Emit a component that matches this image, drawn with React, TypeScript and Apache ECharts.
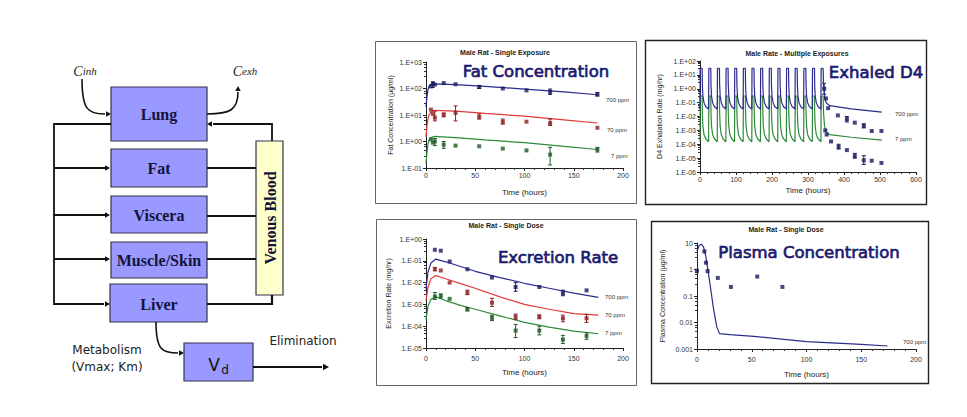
import React, { useEffect, useRef } from "react";
import * as echarts from "echarts";

// ---------------- Panel 1: Fat concentration (single exposure) ----------------
const fatObsHours = [5, 7, 9, 18, 30, 54, 78, 102, 126, 174];
const fatObs700 = [120, 150, 140, 160, 145, 115, 100, 85, 75, 60];
const fatObs70 = [16, 11, 8, 10, 12, 8.5, 5.5, 5.6, 5, 3.3];
const fatObs7 = [1.2, 0.9, 1.0, 0.76, 0.7, 0.66, 0.54, 0.46, 0.32, 0.5];
const fatErr700 = [[7, 110, 180], [54, 100, 130], [126, 60, 95], [174, 52, 70]];
const fatErr70 = [[9, 6, 14], [18, 8.5, 12], [30, 6, 22], [54, 7, 11], [78, 4.5, 7], [126, 4, 7]];
const fatErr7 = [[9, 0.7, 1.3], [18, 0.55, 1.0], [126, 0.13, 0.6], [174, 0.4, 0.6]];
const fatModelHours = [0, 1, 2, 3, 5, 8, 30, 60, 100, 140, 174];
const fatModel700 = [20, 50, 90, 120, 145, 150, 140, 120, 95, 75, 58];
const fatModel70 = [1.5, 4, 7, 10, 13, 15, 14, 11.5, 9, 6.5, 5];
const fatModel7 = [0.15, 0.4, 0.8, 1.1, 1.4, 1.55, 1.4, 1.15, 0.9, 0.65, 0.5];
const fatTickLabels = ["1.E-01", "1.E+00", "1.E+01", "1.E+02", "1.E+03"];

// ---------------- Panel 2: Exhaled D4 (multiple exposures) ----------------
const exposureStarts = [0, 24, 48, 72, 96, 120, 144, 168, 192, 216, 240, 264, 288, 312, 336];
const cycleHours = [0, 0.5, 6, 6.5, 8, 11, 16, 23.9];
const cycle700 = [0.035, 30, 30, 2, 0.3, 0.1, 0.05, 0.035];
const cycle7 = [1.5e-4, 0.3, 0.3, 0.02, 0.002, 5e-4, 2.5e-4, 1.5e-4];
const tailHours = [343, 346, 350, 360, 420, 505];
const tail700 = [2, 0.3, 0.1, 0.06, 0.035, 0.021];
const tail7 = [0.02, 0.002, 8e-4, 5e-4, 3.2e-4, 2e-4];
const exhObsHours700 = [345, 350, 356, 383, 408, 430, 455, 477, 504];
const exhObs700 = [1.0, 0.2, 0.04, 0.012, 0.0064, 0.0036, 0.0021, 0.0009, 0.0009];
const exhObsHours7 = [348, 352, 364, 385, 408, 430, 455, 477, 504];
const exhObs7 = [1e-3, 5e-4, 1.6e-4, 6.5e-5, 3.8e-5, 1.4e-5, 7e-6, 6.5e-6, 4.5e-6];
const exhErr700 = [[345, 0.4, 2.5], [408, 0.004, 0.01], [455, 0.0015, 0.003]];
const exhErr7 = [[385, 4.5e-5, 1e-4], [430, 1e-5, 2.2e-5], [455, 3.5e-6, 1.5e-5]];
const exhTickLabels = ["1.E-06", "1.E-05", "1.E-04", "1.E-03", "1.E-02", "1.E-01", "1.E+00", "1.E+01", "1.E+02"];

// ---------------- Panel 3: Excretion rate (single dose) ----------------
const excObsHours = [9, 15, 24, 42, 67, 91, 115, 139, 163];
const excObs700 = [0.32, 0.29, 0.093, 0.041, 0.017, 0.0063, 0.0063, 0.0033, 0.0044];
const excObs70 = [0.041, 0.036, 0.01, 0.0035, 0.0012, 2.7e-4, 2.7e-4, 2.3e-4, 2.3e-4];
const excObs7 = [0.0023, 0.0025, 0.0018, 6.0e-4, 2.4e-4, 6.3e-5, 6.3e-5, 2.4e-5, 3.6e-5];
const excErr700 = [[91, 0.004, 0.01], [139, 0.0025, 0.0045]];
const excErr70 = [[9, 0.035, 0.05], [42, 0.0028, 0.0045], [67, 8e-4, 0.0019], [91, 2e-4, 3.6e-4], [115, 2.2e-4, 3.3e-4], [139, 1.6e-4, 3.2e-4], [163, 1.5e-4, 3.5e-4]];
const excErr7 = [[9, 0.0017, 0.0035], [15, 0.002, 0.003], [42, 5e-4, 7e-4], [67, 1.8e-4, 3.2e-4], [91, 3e-5, 1.2e-4], [115, 4e-5, 1e-4], [139, 1.6e-5, 3.8e-5], [163, 2.5e-5, 5e-5]];
const excModelHours = [0, 2, 5, 10, 20, 35, 50, 75, 100, 125, 150, 175];
const excModel700 = [0.005, 0.03, 0.08, 0.12, 0.09, 0.055, 0.033, 0.017, 0.0093, 0.0055, 0.0033, 0.0021];
const excModel70 = [0.0015, 0.006, 0.015, 0.021, 0.015, 0.009, 0.0055, 0.0022, 0.001, 6e-4, 3.8e-4, 3.2e-4];
const excModel7 = [2e-4, 8e-4, 0.0017, 0.0022, 0.0015, 9e-4, 6e-4, 3e-4, 1.5e-4, 9e-5, 6e-5, 4.5e-5];
const excTickLabels = ["1.E-05", "1.E-04", "1.E-03", "1.E-02", "1.E-01", "1.E+00"];

// ---------------- Panel 4: Plasma concentration (single dose) ----------------
const plasmaObsHours = [0, 6.7, 8.2, 9.7, 19, 31, 55, 78];
const plasmaObs700 = [0.9, 4.8, 1.8, 0.87, 0.48, 0.22, 0.54, 0.22];
const plasmaModelHours = [0, 2, 4, 6, 8, 10, 12, 15, 18, 20.5, 30, 52, 100, 150, 174];
const plasmaModel700 = [5, 8, 9, 7, 3.2, 0.95, 0.26, 0.035, 0.007, 0.0038, 0.0035, 0.003, 0.0019, 0.0015, 0.0013];
const plasmaTickLabels = ["0.001", "0.01", "0.1", "1", "10"];

const SANS = "Liberation Sans, Arial, sans-serif";
const SERIF = "Liberation Serif, Times New Roman, serif";
const COMIC = "DejaVu Sans, Verdana, sans-serif";
const BLUE = "#2b2b8f";
const RED = "#e23a3a";
const GREEN = "#2f8a3a";
const BLUE_M = "#1a1a5e";
const RED_M = "#8e1f1f";
const GREEN_M = "#1f5a26";
const BOX = "#9999ff";
const INK = "#111";

const pairs = (xs: number[], ys: number[]) => xs.map((x, i) => [x, ys[i]]);

function buildExhaled(vals: number[], tH: number[], tV: number[]) {
  const out: number[][] = [];
  exposureStarts.forEach((s, k) => {
    const last = k === exposureStarts.length - 1;
    const n = last ? 3 : cycleHours.length;
    for (let i = 0; i < n; i++) out.push([s + cycleHours[i], vals[i]]);
  });
  tH.forEach((h, i) => out.push([h, tV[i]]));
  return out;
}

function logY(gridIndex: number, labels: string[], minExp: number, name: string, nameGap: number) {
  const maxExp = minExp + labels.length - 1;
  return {
    type: "log",
    gridIndex,
    logBase: 10,
    min: Math.pow(10, minExp),
    max: Math.pow(10, maxExp),
    splitNumber: labels.length - 1,
    name,
    nameLocation: "middle",
    nameGap,
    nameTextStyle: { fontSize: 7, fontFamily: SANS, color: "#222" },
    axisLine: { show: true, lineStyle: { color: "#222", width: 1 } },
    axisTick: { show: true, length: 3, lineStyle: { color: "#222" } },
    minorTick: { show: true, splitNumber: 5, length: 2, lineStyle: { color: "#333" } },
    splitLine: { show: false },
    minorSplitLine: { show: false },
    axisLabel: {
      fontSize: 7,
      fontFamily: SANS,
      color: "#333",
      margin: 4,
      formatter: (v: number) => labels[Math.round(Math.log10(v)) - minExp] ?? "",
    },
  };
}

function linX(gridIndex: number, max: number, interval: number, margin: number, nameGap: number) {
  return {
    type: "value",
    gridIndex,
    min: 0,
    max,
    interval,
    name: "Time (hours)",
    nameLocation: "middle",
    nameGap,
    nameTextStyle: { fontSize: 8, fontFamily: SANS, color: "#222" },
    axisLine: { show: true, onZero: false, lineStyle: { color: "#222", width: 1 } },
    axisTick: { show: true, length: 3, lineStyle: { color: "#222" } },
    minorTick: { show: true, splitNumber: 5, length: 2, lineStyle: { color: "#333" } },
    splitLine: { show: false },
    axisLabel: { fontSize: 7, fontFamily: SANS, color: "#333", margin },
  };
}

function lineS(idx: number, data: number[][], color: string, z = 2) {
  return {
    type: "line",
    xAxisIndex: idx,
    yAxisIndex: idx,
    data,
    showSymbol: false,
    symbol: "none",
    smooth: false,
    z,
    lineStyle: { color, width: 1.2 },
    silent: true,
  };
}

function scatterS(idx: number, data: number[][], color: string) {
  return {
    type: "scatter",
    xAxisIndex: idx,
    yAxisIndex: idx,
    data,
    symbol: "rect",
    symbolSize: 4,
    itemStyle: { color },
    z: 4,
    silent: true,
  };
}

function errS(idx: number, data: number[][], color: string) {
  return {
    type: "custom",
    xAxisIndex: idx,
    yAxisIndex: idx,
    data,
    z: 3,
    silent: true,
    encode: { x: 0, y: [1, 2] },
    renderItem: (_p: any, api: any) => {
      const x = api.value(0);
      const a = api.coord([x, api.value(1)]);
      const b = api.coord([x, api.value(2)]);
      const st = { stroke: color, lineWidth: 1 };
      return {
        type: "group",
        children: [
          { type: "line", shape: { x1: a[0], y1: a[1], x2: b[0], y2: b[1] }, style: st },
          { type: "line", shape: { x1: a[0] - 2, y1: a[1], x2: a[0] + 2, y2: a[1] }, style: st },
          { type: "line", shape: { x1: b[0] - 2, y1: b[1], x2: b[0] + 2, y2: b[1] }, style: st },
        ],
      };
    },
  };
}

// ---------------- graphic helpers ----------------
function txt(x: number, y: number, text: string, o: any = {}) {
  return {
    type: "text",
    x,
    y,
    rotation: o.rotation ?? 0,
    z: 100,
    style: {
      text,
      fontSize: o.size ?? 7,
      fontFamily: o.family ?? SANS,
      fontWeight: o.weight ?? "normal",
      fontStyle: o.style ?? "normal",
      fill: o.color ?? "#222",
      stroke: o.stroke,
      lineWidth: o.lineWidth ?? 0,
      align: o.align ?? "center",
      textAlign: o.align ?? "center",
      verticalAlign: "middle",
      textVerticalAlign: "middle",
      rich: o.rich,
    },
  };
}
function box(x: number, y: number, w: number, h: number, fill: string) {
  return {
    type: "rect",
    z: 90,
    shape: { x, y, width: w, height: h },
    style: { fill, stroke: "#33334d", lineWidth: 1.2 },
  };
}
function ln(points: number[][], width = 1.8) {
  return {
    type: "polyline",
    z: 95,
    shape: { points },
    style: { stroke: INK, lineWidth: width, fill: null },
  };
}
function head(x: number, y: number, dir: "r" | "l" | "u", s = 5) {
  const pts =
    dir === "r"
      ? [[x, y], [x - s, y - s * 0.55], [x - s, y + s * 0.55]]
      : dir === "l"
      ? [[x, y], [x + s, y - s * 0.55], [x + s, y + s * 0.55]]
      : [[x, y], [x - s * 0.55, y + s], [x + s * 0.55, y + s]];
  return { type: "polygon", z: 96, shape: { points: pts }, style: { fill: INK } };
}
function curve(x1: number, y1: number, c1x: number, c1y: number, c2x: number, c2y: number, x2: number, y2: number) {
  return {
    type: "bezierCurve",
    z: 95,
    shape: { x1, y1, cpx1: c1x, cpy1: c1y, cpx2: c2x, cpy2: c2y, x2, y2 },
    style: { stroke: INK, lineWidth: 1.6, fill: null },
  };
}
function frame(x: number, y: number, w: number, h: number, color: string, lw: number) {
  return {
    type: "rect",
    z: 1,
    shape: { x, y, width: w, height: h },
    style: { fill: "none", stroke: color, lineWidth: lw },
    silent: true,
  };
}

export default function App() {
  const ref = useRef<HTMLDivElement>(null);
  useEffect(() => {
    if (!ref.current) return;
    const chart = echarts.init(ref.current, undefined, { renderer: "svg" });

    const organLabel = { size: 16, family: SERIF, weight: "bold", color: "#14143a" };
    const bigTitle = { size: 16.5, family: COMIC, color: "#1b1b70", stroke: "#1b1b70", lineWidth: 0.7 };
    const sub = { size: 7, weight: "bold", color: "#222" };
    const ppm = { size: 6, align: "left", color: "#333" };

    const graphic: any[] = [
      // chart frames
      frame(375.5, 41.5, 261, 162, "#666", 1),
      frame(645.5, 40.5, 281, 164, "#222", 1.4),
      frame(376.5, 219.5, 260, 166, "#666", 1),
      frame(651.5, 221.5, 277, 162, "#222", 1.4),
      // diagram boxes
      box(111, 87, 96, 54, BOX),
      box(111, 149, 96, 38, BOX),
      box(111, 196, 96, 37, BOX),
      box(111, 242, 96, 36, BOX),
      box(110, 284, 97, 38, BOX),
      box(256, 141, 27, 154, "#ffffcc"),
      box(184, 343, 69, 38, BOX),
      txt(159, 114, "Lung", organLabel),
      txt(159, 168, "Fat", organLabel),
      txt(159, 215, "Viscera", organLabel),
      txt(159, 260, "Muscle/Skin", organLabel),
      txt(159, 304, "Liver", organLabel),
      txt(270, 218, "Venous Blood", { ...organLabel, rotation: Math.PI / 2 }),
      txt(214, 365, "V", { size: 17, family: COMIC, color: "#111" }),
      txt(225, 370, "d", { size: 12, family: COMIC, color: "#111" }),
      // left distribution bus
      ln([[111, 124], [54, 124], [54, 304], [104, 304]]),
      ln([[54, 168], [105, 168]]),
      ln([[54, 215], [105, 215]]),
      ln([[54, 259], [105, 259]]),
      head(110, 168, "r"),
      head(110, 215, "r"),
      head(110, 259, "r"),
      head(110, 304, "r"),
      // venous return
      ln([[207, 168], [256, 168]]),
      ln([[207, 216], [256, 216]], 2.2),
      ln([[207, 259], [256, 259]], 2.2),
      ln([[207, 304], [272, 304], [272, 295]], 2.2),
      ln([[272, 141], [272, 124], [213, 124]]),
      head(207, 124, "l"),
      // inhaled / exhaled
      curve(82, 79, 82, 110, 88, 114, 105, 114),
      head(111, 114, "r"),
      curve(207, 114, 230, 114, 238, 110, 238, 92),
      head(238, 86, "u"),
      txt(85, 71, "{c|C}{s|inh}", {
        rich: {
          c: { fontSize: 14, fontFamily: SERIF, fontStyle: "italic", fill: "#222" },
          s: { fontSize: 11, fontFamily: SERIF, fontStyle: "italic", fill: "#222" },
        },
      }),
      txt(245, 71, "{c|C}{s|exh}", {
        rich: {
          c: { fontSize: 14, fontFamily: SERIF, fontStyle: "italic", fill: "#222" },
          s: { fontSize: 11, fontFamily: SERIF, fontStyle: "italic", fill: "#222" },
        },
      }),
      // metabolism / elimination
      curve(156, 322, 156, 350, 162, 353, 178, 353),
      head(184, 353, "r"),
      ln([[253, 367], [322, 367]]),
      head(329, 367, "r", 6),
      txt(107, 350, "Metabolism", { size: 12, family: COMIC, color: "#222" }),
      txt(107, 367, "(Vmax; Km)", { size: 12, family: COMIC, color: "#222" }),
      txt(303, 341, "Elimination", { size: 12, family: COMIC, color: "#222" }),
      // panel titles
      txt(505, 52, "Male Rat - Single Exposure", sub),
      txt(536, 71, "Fat Concentration", bigTitle),
      txt(606, 100, "700 ppm", ppm),
      txt(607, 130, "70 ppm", ppm),
      txt(611, 156, "7 ppm", ppm),
      txt(797, 53, "Male Rate - Multiple Exposures", sub),
      txt(876, 72, "Exhaled D4", bigTitle),
      txt(895, 114, "700 ppm", ppm),
      txt(895, 139, "7 ppm", ppm),
      txt(506, 225, "Male Rat - Single Dose", sub),
      txt(558, 257, "Excretion Rate", bigTitle),
      txt(605, 297, "700 ppm", ppm),
      txt(605, 315, "70 ppm", ppm),
      txt(605, 333, "7 ppm", ppm),
      txt(786, 229, "Male Rat - Single Dose", sub),
      txt(809, 252, "Plasma Concentration", bigTitle),
      txt(903, 342, "700 ppm", ppm),
    ];

    chart.setOption({
      animation: false,
      backgroundColor: "#fff",
      grid: [
        { left: 426, top: 62, width: 197, height: 106 },
        { left: 700, top: 61, width: 216, height: 111 },
        { left: 426, top: 239, width: 197, height: 109 },
        { left: 697, top: 243, width: 219, height: 106 },
      ],
      xAxis: [
        linX(0, 200, 50, 4, 20),
        linX(1, 600, 100, 4, 14),
        linX(2, 200, 50, 7, 20),
        linX(3, 200, 50, 7, 21),
      ],
      yAxis: [
        logY(0, fatTickLabels, -1, "Fat Concentration (\u00b5g/ml)", 32),
        logY(1, exhTickLabels, -6, "D4 Exhalation Rate (mg/hr)", 37),
        logY(2, excTickLabels, -5, "Excretion Rate (mg/hr)", 34),
        logY(3, plasmaTickLabels, -3, "Plasma Concentration (\u00b5g/ml)", 31),
      ],
      series: [
        // panel 1
        lineS(0, pairs(fatModelHours, fatModel700), BLUE),
        lineS(0, pairs(fatModelHours, fatModel70), RED),
        lineS(0, pairs(fatModelHours, fatModel7), GREEN),
        errS(0, fatErr700, BLUE_M),
        errS(0, fatErr70, RED_M),
        errS(0, fatErr7, GREEN_M),
        scatterS(0, pairs(fatObsHours, fatObs700), BLUE_M),
        scatterS(0, pairs(fatObsHours, fatObs70), RED_M),
        scatterS(0, pairs(fatObsHours, fatObs7), GREEN_M),
        // panel 2
        lineS(1, buildExhaled(cycle7, tailHours, tail7), GREEN),
        lineS(1, buildExhaled(cycle700, tailHours, tail700), BLUE, 3),
        errS(1, exhErr700, BLUE_M),
        errS(1, exhErr7, BLUE_M),
        scatterS(1, pairs(exhObsHours700, exhObs700), BLUE_M),
        scatterS(1, pairs(exhObsHours7, exhObs7), BLUE_M),
        // panel 3
        lineS(2, pairs(excModelHours, excModel700), BLUE),
        lineS(2, pairs(excModelHours, excModel70), RED),
        lineS(2, pairs(excModelHours, excModel7), GREEN),
        errS(2, excErr700, BLUE_M),
        errS(2, excErr70, RED_M),
        errS(2, excErr7, GREEN_M),
        scatterS(2, pairs(excObsHours, excObs700), BLUE_M),
        scatterS(2, pairs(excObsHours, excObs70), RED_M),
        scatterS(2, pairs(excObsHours, excObs7), GREEN_M),
        // panel 4
        lineS(3, pairs(plasmaModelHours, plasmaModel700), BLUE),
        scatterS(3, pairs(plasmaObsHours, plasmaObs700), BLUE_M),
      ],
      graphic: { elements: graphic },
    });
    return () => chart.dispose();
  }, []);
  return (
    <div
      ref={ref}
      style={{ position: "absolute", left: 0, top: 0, width: 967, height: 417, background: "#fff" }}
    />
  );
}
